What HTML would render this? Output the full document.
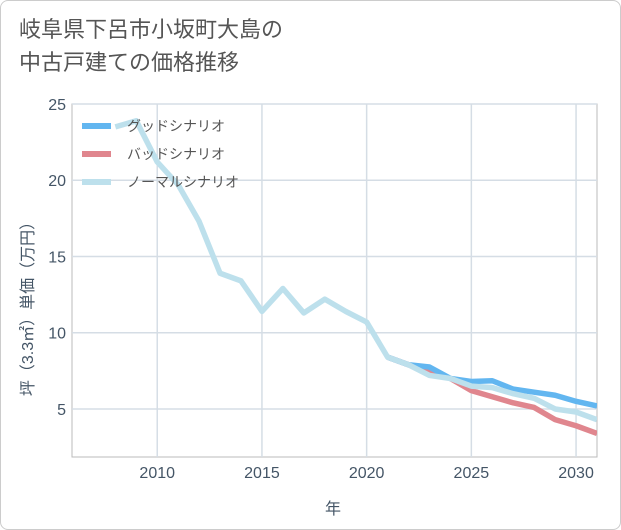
<!DOCTYPE html>
<html><head><meta charset="utf-8">
<style>
body{margin:0;background:#fff;font-family:"Liberation Sans","Noto Sans CJK JP",sans-serif;}
#card{position:absolute;left:0;top:0;width:619px;height:528px;border:1px solid #ccc;border-radius:8px;background:#fff;}
#title{position:absolute;left:18px;top:12px;font-size:22px;line-height:33px;color:#555;}
</style></head><body>
<div id="card">
<div id="title">岐阜県下呂市小坂町大島の<br>中古戸建ての価格推移</div>
<svg id="chart" width="621" height="530" style="position:absolute;left:-1px;top:-1px"></svg>
</div>
<script>
const years=[2008,2009,2010,2011,2012,2013,2014,2015,2016,2017,2018,2019,2020,2021,2022,2023,2024,2025,2026,2027,2028,2029,2030,2031];
const normal=[23.5,23.9,21.2,19.7,17.3,13.9,13.4,11.4,12.9,11.3,12.2,11.4,10.7,8.4,7.9,7.2,7.0,6.5,6.4,6.0,5.7,5.0,4.8,4.3];
const fYears=[2021,2022,2023,2024,2025,2026,2027,2028,2029,2030,2031];
const good=[8.4,7.9,7.75,7.0,6.8,6.85,6.3,6.1,5.9,5.5,5.2];
const bad=[8.4,7.9,7.4,7.0,6.2,5.8,5.4,5.1,4.3,3.9,3.4];
const xTicks=[2010,2015,2020,2025,2030];
const yTicks=[5,10,15,20,25];
const L=72,R=597,T=104,B=457,X0=2005.93,X1=2031,Y0=1.85,Y1=25;
const sx=v=>L+(v-X0)/(X1-X0)*(R-L);
const sy=v=>B-(v-Y0)/(Y1-Y0)*(B-T);
const svg=document.getElementById('chart');
const NS='http://www.w3.org/2000/svg';
function mk(t,a){const e=document.createElementNS(NS,t);for(const k in a)e.setAttribute(k,a[k]);svg.appendChild(e);return e;}
let e;
e=mk('rect',{x:L,y:T,width:R-L,height:B-T,fill:'none',stroke:'#bbb'});


xTicks.forEach(v=>{
 e=mk('line',{x1:sx(v),x2:sx(v),y1:T,y2:B,stroke:'#d5dde5','stroke-width':1.5});
 
 
 e=mk('text',{x:sx(v),y:478,'text-anchor':'middle','font-size':16,fill:'#456'});e.textContent=v;
 
 
});
yTicks.forEach(v=>{
 e=mk('line',{x1:L,x2:R,y1:sy(v),y2:sy(v),stroke:'#d5dde5','stroke-width':1.5});
 
 
 e=mk('text',{x:66,y:sy(v)+6,'text-anchor':'end','font-size':16,fill:'#456'});e.textContent=v;
 
 
});
e=mk('text',{x:333,y:514,'text-anchor':'middle','font-size':16,fill:'#456'});e.textContent='年';


e=mk('text',{x:0,y:0,'text-anchor':'middle','font-size':16,fill:'#456',transform:'translate(33,305) rotate(-90)'});e.textContent='坪（3.3㎡）単価（万円）';


const clip=mk('clipPath',{id:'c'});const cr=document.createElementNS(NS,'rect');
cr.setAttribute('x',L);cr.setAttribute('y',T);cr.setAttribute('width',R-L);cr.setAttribute('height',B-T);clip.appendChild(cr);
function line(xs,ys,col,name){
 const d=xs.map((x,i)=>(i?'L':'M')+sx(x)+','+sy(ys[i])).join('');
 const p=mk('path',{d:d,fill:'none',stroke:col,'stroke-width':5.5,'stroke-linejoin':'round','clip-path':'url(#c)'});
 
 
}
line(fYears,bad,'#e0868e','bad-scenario-line');
line(fYears,good,'#62b6f0','good-scenario-line');
line(years,normal,'#bde0ec','normal-scenario-line');
[['グッドシナリオ','#62b6f0'],['バッドシナリオ','#e0868e'],['ノーマルシナリオ','#bde0ec']].forEach((l,i)=>{
 const y=126+i*28;
 e=mk('line',{x1:82,x2:111,y1:y,y2:y,stroke:l[1],'stroke-width':6});
 
 
 e=mk('text',{x:127,y:y+5,'font-size':14,fill:'#555'});e.textContent=l[0];
 
 
});
</script>
</body></html>
